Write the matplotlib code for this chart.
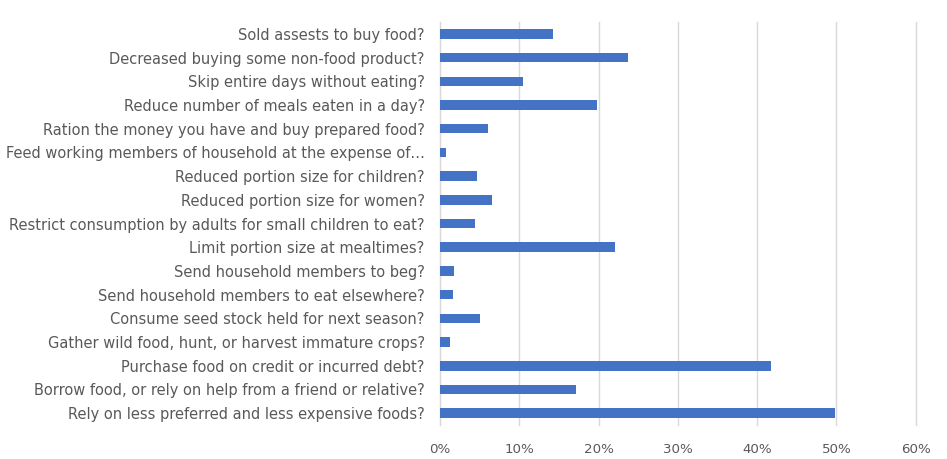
import matplotlib.pyplot as plt
from matplotlib.ticker import PercentFormatter

questions = [
    "Sold assests to buy food?",
    "Decreased buying some non-food product?",
    "Skip entire days without eating?",
    "Reduce number of meals eaten in a day?",
    "Ration the money you have and buy prepared food?",
    "Feed working members of household at the expense of…",
    "Reduced portion size for children?",
    "Reduced portion size for women?",
    "Restrict consumption by adults for small children to eat?",
    "Limit portion size at mealtimes?",
    "Send household members to beg?",
    "Send household members to eat elsewhere?",
    "Consume seed stock held for next season?",
    "Gather wild food, hunt, or harvest immature crops?",
    "Purchase food on credit or incurred debt?",
    "Borrow food, or rely on help from a friend or relative?",
    "Rely on less preferred and less expensive foods?",
]
share = [14.2, 23.7, 10.5, 19.8, 6.0, 0.7, 4.7, 6.5, 4.4,
         22.1, 1.8, 1.6, 5.0, 1.3, 41.8, 17.2, 49.8]
x_ticks = [0, 10, 20, 30, 40, 50, 60]

plt.rcParams['font.family'] = ['DejaVu Sans']

fig = plt.figure(figsize=(9.47, 4.59), dpi=100)
ax = fig.add_axes([0.4646, 0.074, 0.5024, 0.878])

ypos = list(range(len(questions)))[::-1]
ax.barh(ypos, share, height=0.4, color="#4472C4", zorder=3)

ax.set_xlim(0, 60)
ax.set_ylim(-0.5, len(questions) - 0.5)
ax.set_xticks(x_ticks)
ax.xaxis.set_major_formatter(PercentFormatter(decimals=0))
ax.set_yticks(ypos)
ax.set_yticklabels(questions)

ax.grid(axis="x", color="#d9d9d9", linewidth=1.0, zorder=0)
for gl in ax.get_xgridlines():
    gl.set_clip_on(False)
for s in ["top", "right", "bottom"]:
    ax.spines[s].set_visible(False)
ax.spines["left"].set_color("#d9d9d9")
ax.tick_params(axis="both", length=0, colors="#595959", labelsize=10.5)
ax.tick_params(axis="x", labelsize=9.6, pad=13)
ax.tick_params(axis="y", pad=11)

fig.savefig("out.png", dpi=100, facecolor="white")
